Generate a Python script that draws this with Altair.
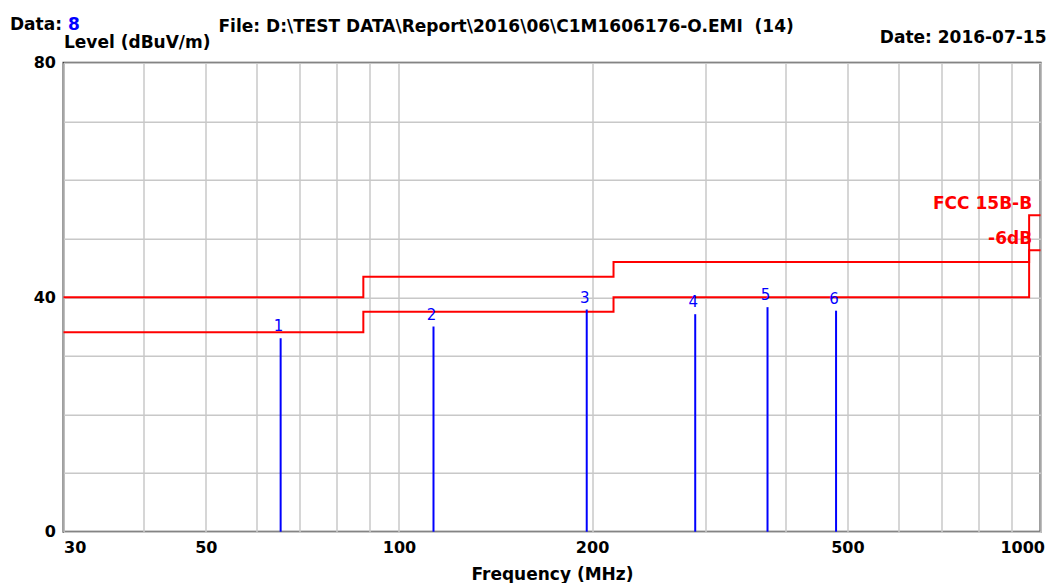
import altair as alt
import pandas as pd

# ---- data ----
marker_id = ["1", "2", "3", "4", "5", "6"]
marker_freq = [65.4, 113.2, 196.2, 289.6, 375.4, 480.1]
marker_level = [33.0, 35.0, 37.9, 37.1, 38.3, 37.7]

limit_freq = [30, 88, 216, 960, 1000]
limit_level = [40, 43.5, 46, 54, 54]       # FCC 15B-B
margin_level = [34, 37.5, 40, 48, 48]      # -6dB

x_grid = [30, 40, 50, 60, 70, 80, 90, 100, 200, 300, 400, 500, 600, 700, 800, 900, 1000]
x_labels = [30, 50, 100, 200, 500, 1000]
y_grid = [0, 10, 20, 30, 40, 50, 60, 70, 80]
y_labels = [0, 40, 80]

FONT = "DejaVu Sans"
RED = "#ff0000"
BLUE = "#0000ff"

markers = pd.DataFrame({"id": marker_id, "freq": marker_freq, "level": marker_level,
                        "base": [0] * len(marker_id)})
limits = pd.DataFrame(
    {"freq": limit_freq * 2,
     "level": limit_level + margin_level,
     "series": ["FCC 15B-B"] * len(limit_freq) + ["-6dB"] * len(limit_freq)}
)

x_lab_expr = "indexof([" + ",".join(str(v) for v in x_labels) + "], datum.value) >= 0 ? format(datum.value, 'd') : ''"
y_lab_expr = "indexof([" + ",".join(str(v) for v in y_labels) + "], datum.value) >= 0 ? format(datum.value, 'd') : ''"

x_enc = alt.X(
    "freq:Q",
    scale=alt.Scale(type="log", domain=[30, 1000], nice=False),
    axis=alt.Axis(
        values=x_grid, labelExpr=x_lab_expr, labelFlush=True, labelOverlap=False,
        labelOffset={"condition": {"test": "datum.value == 1000", "value": 4}, "value": 0},
        ticks=False, domain=False, grid=True, gridColor="#c8c8c8", gridWidth=1.5,
        labelFont=FONT, labelFontSize=16, labelFontWeight="bold", labelColor="black",
        labelPadding=8, labelBaseline="top",
        title="Frequency (MHz)", titleFont=FONT, titleFontSize=17, titleFontWeight="bold",
        titleColor="black", titleY=48, titleBaseline="alphabetic",
    ),
)
y_enc = alt.Y(
    "level:Q",
    scale=alt.Scale(domain=[0, 80], nice=False),
    axis=alt.Axis(
        values=y_grid, labelExpr=y_lab_expr, labelOverlap=False,
        ticks=False, domain=False, grid=True, gridColor="#c8c8c8", gridWidth=1.5,
        labelFont=FONT, labelFontSize=16, labelFontWeight="bold", labelColor="black",
        labelPadding=8, labelBaseline="middle",
        title="Level (dBuV/m)", titleFont=FONT, titleFontSize=17, titleFontWeight="bold",
        titleColor="black", titleAngle=0, titleX=0, titleY=-15, titleAlign="left",
        titleBaseline="alphabetic",
    ),
)

limit_lines = alt.Chart(limits).mark_line(interpolate="step-after", strokeWidth=2).encode(
    x=x_enc, y=y_enc,
    color=alt.Color("series:N", scale=alt.Scale(domain=["FCC 15B-B", "-6dB"], range=[RED, RED]), legend=None),
    detail="series:N",
)

limit_text = alt.Chart(limits).transform_filter(alt.datum.freq == limit_freq[3]).mark_text(
    align="right", baseline="alphabetic", font=FONT, fontSize=17, fontWeight="bold", color=RED, dx=3, dy=-6
).encode(x="freq:Q", y="level:Q", text="series:N")

marker_rules = alt.Chart(markers).mark_rule(color=BLUE, strokeWidth=2).encode(
    x="freq:Q", y="base:Q", y2="level:Q"
)
marker_text = alt.Chart(markers).mark_text(
    align="center", baseline="alphabetic", font=FONT, fontSize=15, color=BLUE, dx=-2, dy=-7
).encode(x="freq:Q", y="level:Q", text="id:N")


def header(text, x, y, align, color="black"):
    return alt.Chart(pd.DataFrame({"t": [text]})).mark_text(
        align=align, baseline="alphabetic", font=FONT, fontSize=17, fontWeight="bold", color=color
    ).encode(x=alt.value(x), y=alt.value(y), text="t:N")


headers = [
    header("Data:", -53.5, -33, "left"),
    header("8", 4.5, -33, "left", BLUE),
    header("File: D:\\TEST DATA\\Report\\2016\\06\\C1M1606176-O.EMI\u00a0 (14)", 155, -31, "left"),
    header("Date: 2016-07-15", 983, -20, "right"),
]

chart = alt.layer(
    limit_lines, marker_rules, marker_text, limit_text, *headers
).properties(
    width=977, height=469,
    padding={"left": 55.5, "top": 54.7, "right": 5.5, "bottom": 51.3},
    autosize="none",
    background="white",
).configure_view(
    stroke="#404040", strokeWidth=2
)

chart.save("out.html", embed_options={"renderer": "svg", "actions": False})
